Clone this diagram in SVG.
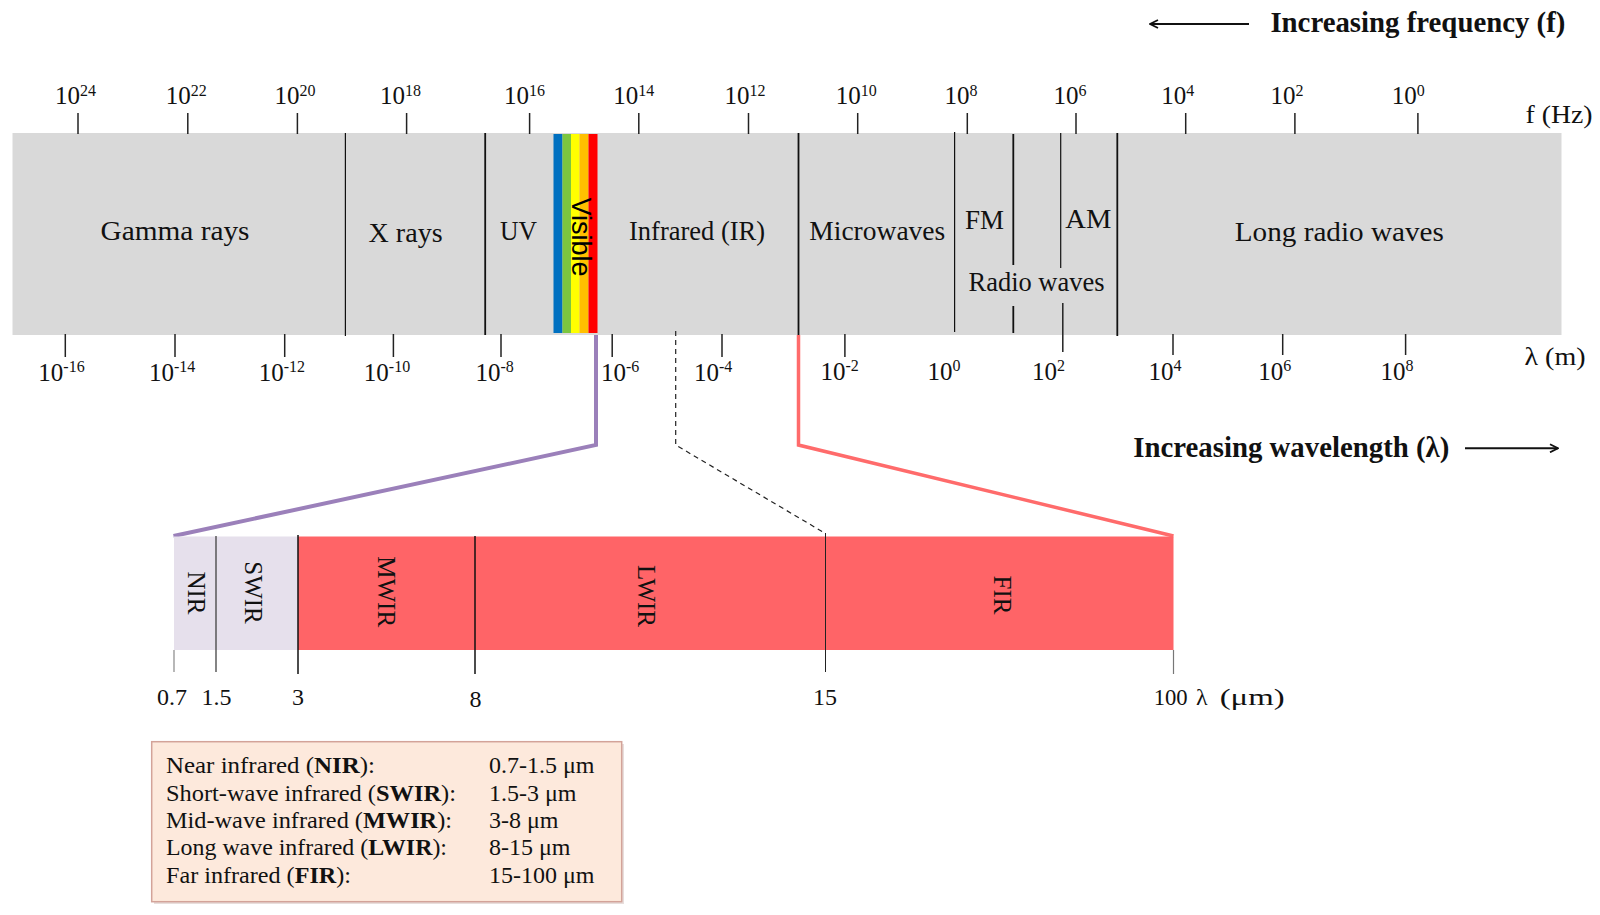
<svg xmlns="http://www.w3.org/2000/svg" width="1600" height="915" viewBox="0 0 1600 915">
<defs>
<style>
text{font-family:"Liberation Serif","Times New Roman",serif;fill:#111}
.num{font-size:25px}
.lbl{font-size:27px;text-anchor:middle}
.tick{stroke:#222;stroke-width:1.5}
.dv{stroke:#111;stroke-width:1.2}
.dvb{stroke:#111;stroke-width:1.8}
.hdr{font-weight:bold;font-size:29px}
.rot{font-size:25px;text-anchor:middle}
.leg{font-size:24px}
.mid{text-anchor:middle}
.sm{font-size:24px}
</style>
<marker id="arr" viewBox="0 0 10 10" refX="9" refY="5" markerWidth="10" markerHeight="10" markerUnits="userSpaceOnUse" orient="auto">
<path d="M1,1 L9,5 L1,9" fill="none" stroke="#111" stroke-width="1.8"/>
</marker>
</defs>
<rect width="1600" height="915" fill="#fff"/>

<g id="header-frequency">
<line x1="1249" y1="24" x2="1150" y2="24" stroke="#111" stroke-width="2" marker-end="url(#arr)"/>
<text class="hdr" x="1270.4" y="31.7" textLength="295" lengthAdjust="spacingAndGlyphs">Increasing frequency (f)</text>
</g>

<g id="spectrum-band">
<rect x="12.5" y="133" width="1549" height="202" fill="#D9D9D9"/>
<g id="visible-stripes">
<rect x="553.5" y="134" width="9" height="199" fill="#0070C0"/>
<rect x="562.5" y="134" width="8.5" height="199" fill="#7CC63F"/>
<rect x="571" y="134" width="8.5" height="199" fill="#FFFF00"/>
<rect x="579.5" y="134" width="9" height="199" fill="#FFC000"/>
<rect x="588.5" y="134" width="9" height="199" fill="#FF0000"/>
</g>
<line class="dv" x1="345.4" y1="133" x2="345.4" y2="336"/>
<line class="dvb" x1="485.2" y1="133" x2="485.2" y2="335"/>
<line class="dvb" x1="798.5" y1="133" x2="798.5" y2="335"/>
<line class="dv" x1="954.6" y1="132" x2="954.6" y2="332"/>
<line class="dvb" x1="1013.3" y1="134" x2="1013.3" y2="265"/>
<line class="dvb" x1="1013.3" y1="306" x2="1013.3" y2="333"/>
<line class="dv" x1="1060.7" y1="133" x2="1060.7" y2="268"/>
<line class="dvb" x1="1117.3" y1="133" x2="1117.3" y2="336"/>
</g>

<g id="band-labels">
<g id="gamma"><text class="lbl" x="175" y="240" textLength="149" lengthAdjust="spacingAndGlyphs">Gamma rays</text></g>
<g id="xrays"><text class="lbl" x="405.6" y="242" textLength="74" lengthAdjust="spacingAndGlyphs">X rays</text></g>
<g id="uv"><text class="lbl" x="518.6" y="240" textLength="37" lengthAdjust="spacingAndGlyphs">UV</text></g>
<g id="visible"><text transform="translate(581,237) rotate(90)" x="0" y="9.5" style="font-family:'Liberation Sans',Arial,sans-serif;font-size:27px;text-anchor:middle;fill:#000">Visible</text></g>
<g id="infrared"><text class="lbl" x="697" y="240" textLength="136" lengthAdjust="spacingAndGlyphs">Infrared (IR)</text></g>
<g id="microwaves"><text class="lbl" x="877.3" y="240" textLength="136" lengthAdjust="spacingAndGlyphs">Microwaves</text></g>
<g id="fm"><text class="lbl" x="984.4" y="229" textLength="39" lengthAdjust="spacingAndGlyphs">FM</text></g>
<g id="am"><text class="lbl" x="1088.3" y="228" textLength="46" lengthAdjust="spacingAndGlyphs">AM</text></g>
<g id="radio"><text class="lbl" x="1036.5" y="291" textLength="136" lengthAdjust="spacingAndGlyphs">Radio waves</text></g>
<g id="longradio"><text class="lbl" x="1339.3" y="241" textLength="209" lengthAdjust="spacingAndGlyphs">Long radio waves</text></g>
</g>

<g id="freq-axis">
<line class="tick" x1="78" y1="113" x2="78" y2="134"/>
<line class="tick" x1="187.8" y1="113" x2="187.8" y2="134"/>
<line class="tick" x1="297.4" y1="113" x2="297.4" y2="134"/>
<line class="tick" x1="406.6" y1="113" x2="406.6" y2="134"/>
<line class="tick" x1="529.6" y1="113" x2="529.6" y2="134"/>
<line class="tick" x1="638.8" y1="113" x2="638.8" y2="134"/>
<line class="tick" x1="748.5" y1="113" x2="748.5" y2="134"/>
<line class="tick" x1="857.7" y1="113" x2="857.7" y2="134"/>
<line class="tick" x1="967.3" y1="113" x2="967.3" y2="134"/>
<line class="tick" x1="1076" y1="113" x2="1076" y2="134"/>
<line class="tick" x1="1185.7" y1="113" x2="1185.7" y2="134"/>
<line class="tick" x1="1294.9" y1="113" x2="1294.9" y2="134"/>
<line class="tick" x1="1417.9" y1="113" x2="1417.9" y2="134"/>
<text class="num" x="55" y="104">10<tspan dy="-8" font-size="16">24</tspan></text>
<text class="num" x="165.8" y="104">10<tspan dy="-8" font-size="16">22</tspan></text>
<text class="num" x="274.5" y="104">10<tspan dy="-8" font-size="16">20</tspan></text>
<text class="num" x="380" y="104">10<tspan dy="-8" font-size="16">18</tspan></text>
<text class="num" x="504" y="104">10<tspan dy="-8" font-size="16">16</tspan></text>
<text class="num" x="613.3" y="104">10<tspan dy="-8" font-size="16">14</tspan></text>
<text class="num" x="724.5" y="104">10<tspan dy="-8" font-size="16">12</tspan></text>
<text class="num" x="835.7" y="104">10<tspan dy="-8" font-size="16">10</tspan></text>
<text class="num" x="944.4" y="104">10<tspan dy="-8" font-size="16">8</tspan></text>
<text class="num" x="1053.6" y="104">10<tspan dy="-8" font-size="16">6</tspan></text>
<text class="num" x="1161.2" y="104">10<tspan dy="-8" font-size="16">4</tspan></text>
<text class="num" x="1270.4" y="104">10<tspan dy="-8" font-size="16">2</tspan></text>
<text class="num" x="1391.8" y="104">10<tspan dy="-8" font-size="16">0</tspan></text>
<text class="num" x="1525.5" y="123" textLength="67" lengthAdjust="spacingAndGlyphs">f (Hz)</text>
</g>

<g id="wavelength-axis">
<line class="tick" x1="65.3" y1="334" x2="65.3" y2="357"/>
<line class="tick" x1="175" y1="334" x2="175" y2="357"/>
<line class="tick" x1="284.7" y1="334" x2="284.7" y2="357"/>
<line class="tick" x1="393.4" y1="334" x2="393.4" y2="357"/>
<line class="tick" x1="501" y1="334" x2="501" y2="357"/>
<line class="tick" x1="612.2" y1="334" x2="612.2" y2="357"/>
<line class="tick" x1="722" y1="334" x2="722" y2="357"/>
<line class="tick" x1="844.9" y1="334" x2="844.9" y2="357"/>
<line class="tick" x1="1062.8" y1="303" x2="1062.8" y2="352"/>
<line class="tick" x1="1173" y1="334" x2="1173" y2="355"/>
<line class="tick" x1="1282.7" y1="334" x2="1282.7" y2="355"/>
<line class="tick" x1="1405.6" y1="334" x2="1405.6" y2="355"/>
<text class="num" x="38.3" y="381">10<tspan dy="-9" font-size="16">-16</tspan></text>
<text class="num" x="149" y="381">10<tspan dy="-9" font-size="16">-14</tspan></text>
<text class="num" x="258.7" y="381">10<tspan dy="-9" font-size="16">-12</tspan></text>
<text class="num" x="363.8" y="381">10<tspan dy="-9" font-size="16">-10</tspan></text>
<text class="num" x="475.5" y="381">10<tspan dy="-9" font-size="16">-8</tspan></text>
<text class="num" x="601" y="381">10<tspan dy="-9" font-size="16">-6</tspan></text>
<text class="num" x="693.9" y="381">10<tspan dy="-9" font-size="16">-4</tspan></text>
<text class="num" x="820.4" y="380">10<tspan dy="-9" font-size="16">-2</tspan></text>
<text class="num" x="927.6" y="380">10<tspan dy="-9" font-size="16">0</tspan></text>
<text class="num" x="1032" y="380">10<tspan dy="-9" font-size="16">2</tspan></text>
<text class="num" x="1148.5" y="380">10<tspan dy="-9" font-size="16">4</tspan></text>
<text class="num" x="1258.2" y="380">10<tspan dy="-9" font-size="16">6</tspan></text>
<text class="num" x="1380.6" y="380">10<tspan dy="-9" font-size="16">8</tspan></text>
<text class="num" x="1524.5" y="365" textLength="61" lengthAdjust="spacingAndGlyphs">λ (m)</text>
</g>

<g id="header-wavelength">
<text class="hdr" x="1133.3" y="457" textLength="316" lengthAdjust="spacingAndGlyphs">Increasing wavelength (λ)</text>
<line x1="1465" y1="448.3" x2="1558" y2="448.3" stroke="#111" stroke-width="2" marker-end="url(#arr)"/>
</g>

<g id="connectors">
<polyline points="596,335 596,445 173.5,536" fill="none" stroke="#9B80BA" stroke-width="4"/>
<polyline points="798.5,335 798.5,445 1173.5,536" fill="none" stroke="#FF6B6B" stroke-width="3.5"/>
<polyline points="675.7,331 675.7,445 825.5,533.5" fill="none" stroke="#222" stroke-width="1.2" stroke-dasharray="5,4"/>
</g>

<g id="ir-bar">
<g id="nir"><rect x="174" y="536.5" width="42" height="113.5" fill="#E6E0EC"/>
<text class="rot" transform="translate(196,593) rotate(90)" x="0" y="8.3">NIR</text></g>
<g id="swir"><rect x="216" y="536.5" width="82" height="113.5" fill="#E6E0EC"/>
<text class="rot" transform="translate(253.4,592.5) rotate(90)" x="0" y="8.3">SWIR</text></g>
<g id="mwir"><rect x="298" y="536.5" width="177" height="113.5" fill="#FF6467"/>
<text class="rot" transform="translate(386.5,591.7) rotate(90)" x="0" y="8.3">MWIR</text></g>
<g id="lwir"><rect x="475" y="536.5" width="350.5" height="113.5" fill="#FF6467"/>
<text class="rot" transform="translate(646,596) rotate(90)" x="0" y="8.3">LWIR</text></g>
<g id="fir"><rect x="825.5" y="536.5" width="348" height="113.5" fill="#FF6467"/>
<text class="rot" transform="translate(1002,595) rotate(90)" x="0" y="8.3">FIR</text></g>
<line x1="174" y1="650" x2="174" y2="672" stroke="#888" stroke-width="1.2"/>
<line x1="216" y1="536" x2="216" y2="672" stroke="#333" stroke-width="1.2"/>
<line x1="298" y1="535" x2="298" y2="674" stroke="#111" stroke-width="1.5"/>
<line x1="475" y1="536" x2="475" y2="674" stroke="#111" stroke-width="1.5"/>
<line x1="825.5" y1="533" x2="825.5" y2="672" stroke="#222" stroke-width="1"/>
<line x1="1173.5" y1="650" x2="1173.5" y2="674" stroke="#777" stroke-width="1.2"/>
<text class="sm" x="157" y="705">0.7</text>
<text class="sm" x="201.4" y="705">1.5</text>
<text class="sm mid" x="298" y="705">3</text>
<text class="sm mid" x="475.5" y="707">8</text>
<text class="sm mid" x="825" y="705">15</text>
<text class="sm" x="1153.7" y="705" textLength="34" lengthAdjust="spacingAndGlyphs">100</text>
<text class="sm" x="1196" y="705">λ</text>
<text class="sm" x="1219.7" y="705" textLength="65" lengthAdjust="spacingAndGlyphs">(μm)</text>
</g>

<g id="legend">
<rect x="154" y="744" width="470" height="160" fill="#D8C8C4" opacity="0.6"/>
<rect x="151.7" y="741.7" width="470" height="160" fill="#FDE9DC" stroke="#D3A399" stroke-width="1.5"/>
<text class="leg" x="166" y="773" textLength="209" lengthAdjust="spacingAndGlyphs">Near infrared (<tspan font-weight="bold">NIR</tspan>):</text>
<text class="leg" x="166" y="800.5" textLength="290" lengthAdjust="spacingAndGlyphs">Short-wave infrared (<tspan font-weight="bold">SWIR</tspan>):</text>
<text class="leg" x="166" y="827.7" textLength="286" lengthAdjust="spacingAndGlyphs">Mid-wave infrared (<tspan font-weight="bold">MWIR</tspan>):</text>
<text class="leg" x="166" y="855" textLength="281" lengthAdjust="spacingAndGlyphs">Long wave infrared (<tspan font-weight="bold">LWIR</tspan>):</text>
<text class="leg" x="166" y="882.5" textLength="185" lengthAdjust="spacingAndGlyphs">Far infrared (<tspan font-weight="bold">FIR</tspan>):</text>
<text class="leg" x="489" y="773">0.7-1.5 μm</text>
<text class="leg" x="489" y="800.5">1.5-3 μm</text>
<text class="leg" x="489" y="827.7">3-8 μm</text>
<text class="leg" x="489" y="855">8-15 μm</text>
<text class="leg" x="489" y="882.5">15-100 μm</text>
</g>
</svg>
